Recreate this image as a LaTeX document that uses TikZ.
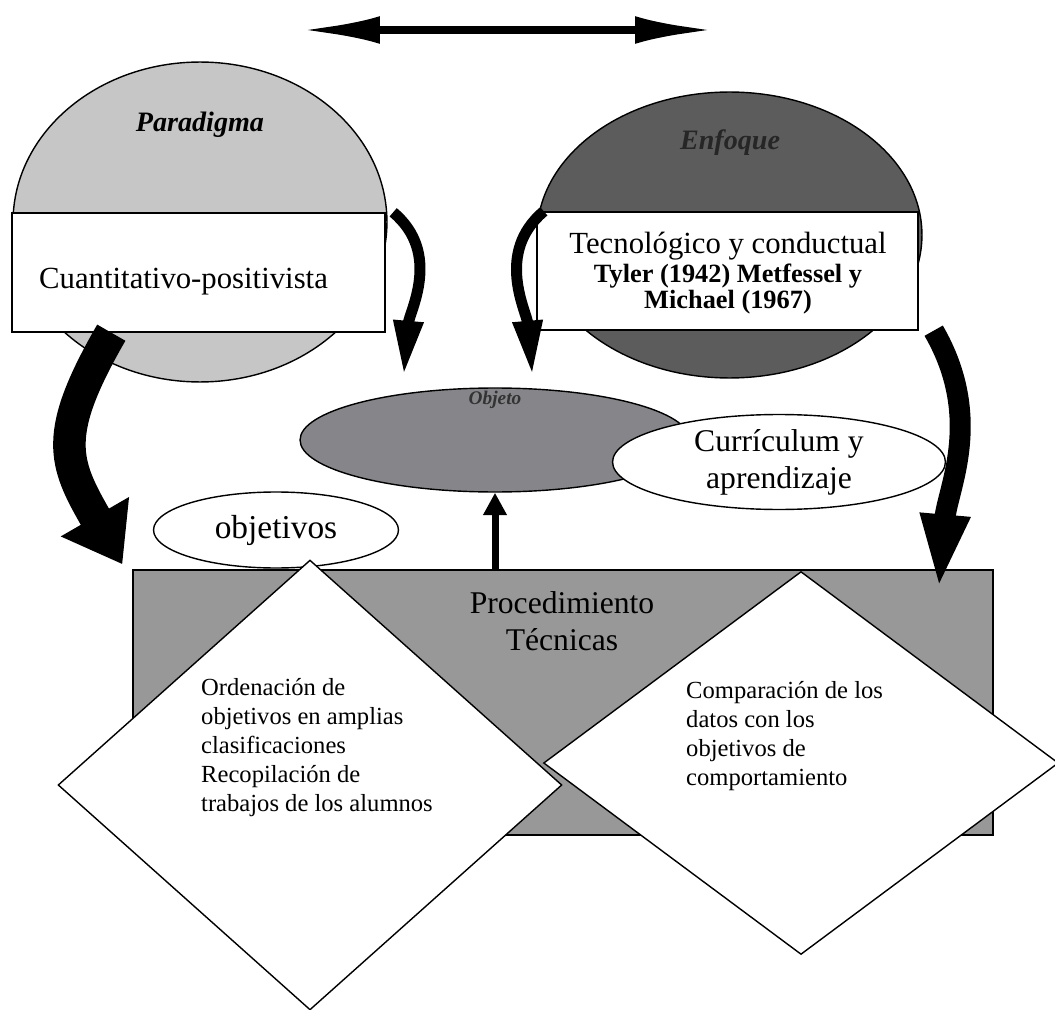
\documentclass[tikz,border=0pt]{standalone}
\usepackage{fontspec}
\setmainfont{Liberation Serif}
\usetikzlibrary{arrows.meta,shapes.geometric}

\definecolor{paradigmagray}{RGB}{198,198,198}
\definecolor{enfoquegray}{RGB}{92,92,92}
\definecolor{objetogray}{RGB}{134,134,138}
\definecolor{tecnicagray}{RGB}{152,152,152}

\begin{document}
\begin{tikzpicture}[
  x=0.02cm, y=-0.02cm,
  outline/.style={draw,line width=0.8pt},
  oval/.style={outline,ellipse,inner sep=0pt},
  panel/.style={outline,rectangle,fill=white,inner sep=0pt},
  rombo/.style={outline,diamond,fill=white,inner sep=0pt},
  title/.style={font=\fontsize{16}{19}\selectfont\bfseries\itshape},
  bigtext/.style={font=\fontsize{17.5}{21}\selectfont},
  smalltext/.style={font=\fontsize{14}{16.5}\selectfont,align=left,anchor=west},
  both/.style={{Latex[length=1.6cm,width=0.55cm]}-{Latex[length=1.6cm,width=0.55cm]},line width=0.16cm},
  bigbend/.style={-{Triangle[length=1.1cm,width=1.5cm]},line width=0.65cm},
  longbend/.style={-{Triangle[length=1.5cm,width=0.9cm]},line width=0.42cm},
  thinbend/.style={-{Triangle[length=1.1cm,width=0.55cm]},line width=0.22cm},
  uparrow/.style={-{Triangle[length=0.45cm,width=0.45cm]},line width=0.14cm}
]
  \useasboundingbox (0,0) rectangle (1055,1010);

  % top double arrow
  \coordinate (arrowl) at (300,30);
  \coordinate (arrowr) at (715,30);
  \draw[both] (arrowl) -- (arrowr);

  % paradigma
  \node[oval,fill=paradigmagray,minimum width=7.48cm,minimum height=6.4cm] (paradigma) at (200,222) {};
  \node[title] (paratext) at (200,125) {Paradigma};
  \node[panel,minimum width=7.46cm,minimum height=2.38cm] (cuanti) at (198.5,272.5) {};
  \node[bigtext,anchor=west] (cuantitext) at (33,282) {Cuantitativo-positivista};

  % enfoque
  \node[oval,fill=enfoquegray,minimum width=7.7cm,minimum height=5.72cm] (enfoque) at (729.5,235) {};
  \node[title,text=black!85] (enftitle) at (730,143) {Enfoque};
  \node[panel,minimum width=7.62cm,minimum height=2.36cm] (enfpanel) at (727.5,271) {};
  \node[align=center] (enftext) at (728,273) {\fontsize{17.5}{21}\selectfont Tecnológico y conductual\\[1pt]
    \fontsize{15}{17}\selectfont\bfseries Tyler (1942) Metfessel y\\
    \fontsize{15}{17}\selectfont\bfseries Michael (1967)};

  % procedimiento
  \node[outline,rectangle,fill=tecnicagray,minimum width=17.2cm,minimum height=5.3cm,inner sep=0pt] (tecnicas) at (563,702.5) {};

  % curved arrows
  \draw[bigbend] ([xshift=2cm]cuanti.south west) to[out=240,in=120,looseness=1.3]
    ([xshift=-0.2cm,yshift=0.1cm]tecnicas.north west);
  \draw[thinbend] ([xshift=0.15cm]cuanti.north east) to[out=-40,in=85]
    ([xshift=0.36cm,yshift=-0.86cm]cuanti.south east);
  \draw[thinbend] ([xshift=0.15cm]enfpanel.north west) to[out=220,in=95]
    ([xshift=-0.08cm,yshift=-0.9cm]enfpanel.south west);
  \draw[longbend] ([xshift=0.3cm]enfpanel.south east) to[out=-60,in=85]
    ([xshift=-1.1cm,yshift=-0.4cm]tecnicas.north east);

  % objeto
  \node[oval,fill=objetogray,minimum width=7.8cm,minimum height=2.08cm] (objeto) at (495,440) {};
  \node[font=\fontsize{11}{13}\selectfont\bfseries\itshape,text=black!80] (objtitle) at (495,400) {Objeto};
  \node[oval,fill=white,minimum width=4.9cm,minimum height=1.52cm,font=\fontsize{19}{22}\selectfont] (objetivos) at (276,530) {objetivos};
  \node[oval,fill=white,minimum width=6.66cm,minimum height=1.9cm,align=center,font=\fontsize{18}{21}\selectfont] (curriculum) at (779,462) {Currículum y\\aprendizaje};

  \draw[uparrow] (tecnicas.north -| objeto.south) -- (objeto.south);
  \node[align=center,font=\fontsize{18}{21}\selectfont] (proctext) at (562,621) {Procedimiento\\Técnicas};

  % rombos
  \node[rombo,minimum width=10.08cm,minimum height=9cm] (ordenacion) at (310,785) {};
  \node[smalltext] (ordtext) at (195,748) {Ordenación de\\objetivos en amplias\\clasificaciones\\Recopilación de\\trabajos de los alumnos};
  \node[rombo,minimum width=10.3cm,minimum height=7.66cm] (comparacion) at (801,763) {};
  \node[smalltext] (comptext) at (680,736) {Comparación de los\\datos con los\\objetivos de\\comportamiento};
\end{tikzpicture}
\end{document}
